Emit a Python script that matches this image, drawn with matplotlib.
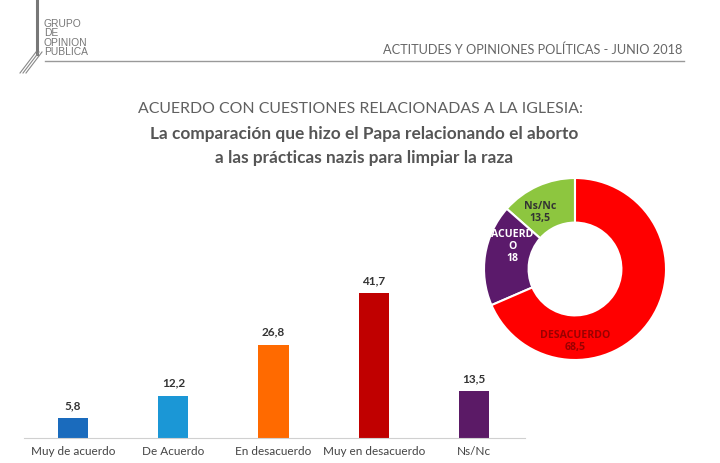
import matplotlib
matplotlib.use("Agg")
import matplotlib.pyplot as plt
from matplotlib.lines import Line2D

categories = ["Muy de acuerdo", "De Acuerdo", "En desacuerdo", "Muy en desacuerdo", "Ns/Nc"]
values = [5.8, 12.2, 26.8, 41.7, 13.5]
value_labels = ["5,8", "12,2", "26,8", "41,7", "13,5"]
bar_colors = ["#1a6bbd", "#1b97d6", "#ff6a00", "#c00000", "#5b1a66"]

donut_labels = ["Ns/Nc\n13,5", "ACUERD\nO\n18", "DESACUERDO\n68,5"]
donut_values = [13.5, 18, 68.5]
donut_colors = ["#8dc63f", "#5b1a6b", "#ff0000"]
donut_text_colors = ["#333333", "white", "#9a0000"]

plt.rcParams['font.family'] = ['Lato', 'DejaVu Sans']

W, H = 720, 463
fig = plt.figure(figsize=(7.2, 4.63), dpi=100)
fig.patch.set_facecolor("white")

def fx(px):
    return px / W

def fy(py):
    return 1 - py / H

# Logo
fig.add_artist(Line2D([fx(37), fx(37)], [fy(0), fy(54)], color="#777777", lw=2.2))
for dx in (0, 3, 6):
    fig.add_artist(Line2D([fx(36 + dx), fx(20 + dx)], [fy(52), fy(73)], color="#888888", lw=0.8))
fig.text(fx(44), fy(38), "GRUPO\nDE\nOPINION\nPUBLICA", fontsize=7.4, color="#777777",
         family="Liberation Sans", va="center", ha="left", linespacing=0.92)
# Header
fig.text(fx(682), fy(50), "ACTITUDES Y OPINIONES POLÍTICAS - JUNIO 2018", fontsize=9.2,
         color="#666666", ha="right", va="center")
fig.add_artist(Line2D([fx(45), fx(684)], [fy(61), fy(61)], color="#999999", lw=1.0))

# Titles
fig.text(fx(361), fy(109), "ACUERDO CON CUESTIONES RELACIONADAS A LA IGLESIA:", fontsize=11.4,
         color="#606060", ha="center", va="center")
fig.text(fx(364), fy(134), "La comparación que hizo el Papa relacionando el aborto", fontsize=12.4,
         color="#555555", ha="center", va="center", fontweight="bold")
fig.text(fx(364), fy(158), "a las prácticas nazis para limpiar la raza", fontsize=12.4,
         color="#555555", ha="center", va="center", fontweight="bold")

# Bar chart
top_px, base_px = 263, 438
ax = fig.add_axes([fx(24), fy(base_px), fx(525 - 24), (base_px - top_px) / H])
x = list(range(len(categories)))
bars = ax.bar(x, values, width=0.3, color=bar_colors)
ax.set_xlim(-0.49, 4.51)
ax.set_ylim(0, (base_px - top_px) / 3.48)
for xi, v, lab in zip(x, values, value_labels):
    ax.annotate(lab, (xi, v), xytext=(0, 5), textcoords="offset points", ha="center",
                va="bottom", fontsize=8.5, fontweight="bold", color="#333333")
ax.set_xticks(x)
ax.set_xticklabels(categories, fontsize=8.5, color="#444444")
ax.tick_params(axis="x", length=0, pad=6)
ax.set_yticks([])
for s in ("top", "right", "left"):
    ax.spines[s].set_visible(False)
ax.spines["bottom"].set_color("#d0d0d0")
ax.patch.set_alpha(0)

# Donut
cx, cy, r = 575, 269, 91
ax2 = fig.add_axes([fx(cx - r), fy(cy + r), 2 * r / W, 2 * r / H])
wedges, _ = ax2.pie(donut_values, colors=donut_colors, startangle=90, counterclock=True,
                    radius=1.0, wedgeprops=dict(width=0.49, edgecolor="white", linewidth=1.5))
ax2.set_xlim(-1, 1)
ax2.set_ylim(-1, 1)
ax2.set_aspect("auto")
ax2.axis("off")
label_pos = [(-0.38, 0.62), (-0.69, 0.25), (0.0, -0.8)]
for (lx, ly), lab, tc in zip(label_pos, donut_labels, donut_text_colors):
    ax2.text(lx, ly, lab, ha="center", va="center", fontsize=7.6, fontweight="bold",
             family="Open Sans", color=tc, linespacing=1.15)

fig.savefig("out.png", dpi=100, facecolor="white")
